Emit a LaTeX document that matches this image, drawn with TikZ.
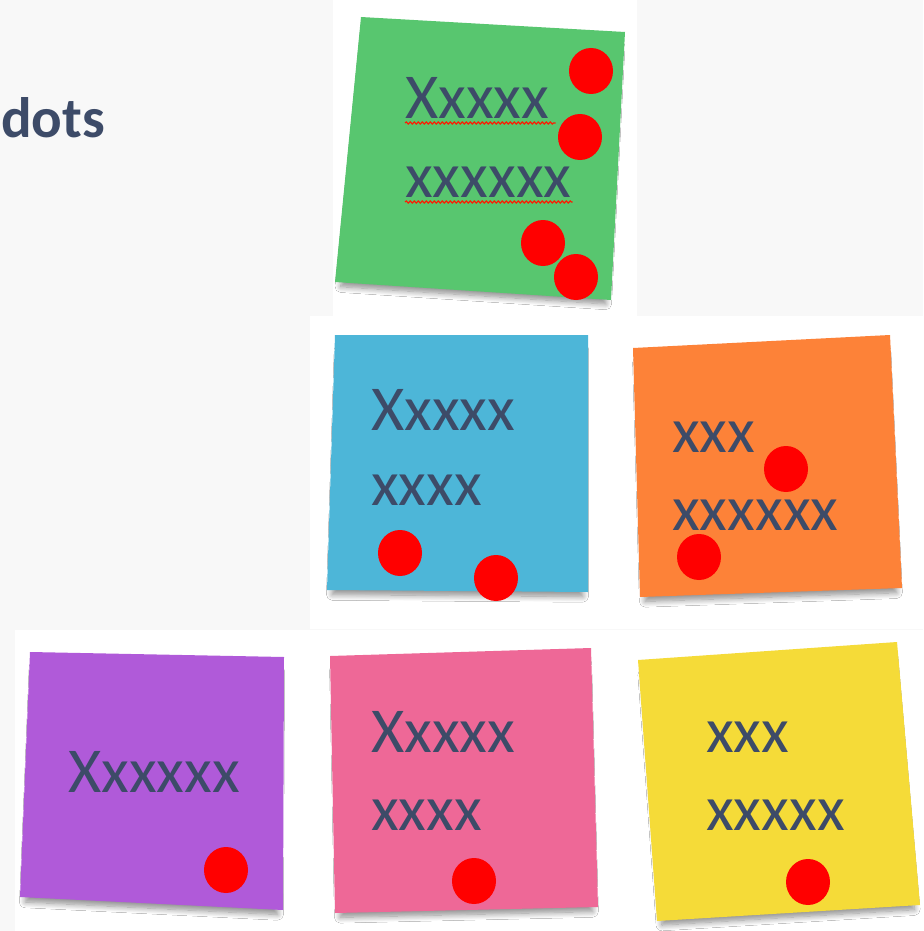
\documentclass[tikz,border=0pt]{standalone}
\usepackage{fontspec}
\setmainfont{Carlito}
\usetikzlibrary{shapes.geometric,decorations.pathmorphing,shadows.blur}

\definecolor{inkblue}{HTML}{3D4B68}
\definecolor{notegreen}{HTML}{58C66F}
\definecolor{noteblue}{HTML}{4DB6D8}
\definecolor{noteorange}{HTML}{FD8238}
\definecolor{notepurple}{HTML}{B05AD9}
\definecolor{notepink}{HTML}{EE6897}
\definecolor{noteyellow}{HTML}{F5DB38}
\definecolor{paper}{HTML}{F8F8F8}

\tikzset{
  note/.style={fill=#1, blur shadow={shadow xshift=0pt, shadow yshift=-10pt,
      shadow scale=0.96, shadow blur radius=6pt, shadow blur steps=10,
      shadow opacity=45}},
  scrib/.style={text=inkblue, inner sep=0pt, anchor=base west,
      font=\fontsize{64}{72}\selectfont},
  dot/.style={ellipse, fill=red, minimum width=44pt, minimum height=46pt, inner sep=0pt},
  wavy/.style={draw=red!80!orange, line width=1.1pt,
      decorate, decoration={snake, amplitude=1.1pt, segment length=4pt}}
}

\begin{document}
\begin{tikzpicture}[x=1pt, y=-1pt]
  \useasboundingbox (0,0) rectangle (923,931);
  \fill[paper] (0,0) rectangle (923,931);
  % photo patches behind the notes
  \fill[white] (333,0) rectangle (637,316);
  \fill[white] (310,316) rectangle (923,629);
  \fill[white] (15,630) rectangle (923,931);

  \node[text=inkblue, inner sep=0pt, anchor=base west,
        font=\fontsize{57}{64}\selectfont\bfseries] (title) at (1,137) {dots};

  % the notes
  \foreach \col/\ax/\ay/\bx/\by/\cx/\cy/\dx/\dy in {
      notegreen/361/17/625/32/611/300/335/282,
      noteblue/335/335/588/335/588/592/327/590,
      noteorange/633/348/890/335/902/588/640/597,
      notepurple/30/652/284/657/283/910/20/897,
      notepink/330/656/591/648/598/907/335/913,
      noteyellow/638/660/897/642/920/905/657/921}
    \fill[note=\col] (\ax,\ay) -- (\bx,\by) -- (\cx,\cy) -- (\dx,\dy) -- cycle;

  % green note
  \node[scrib] (g1) at (405,118) {Xxxxx};
  \node[scrib] (g2) at (405,197) {xxxxxx};
  \draw[wavy] ([yshift=-5pt]g1.base west) -- ([xshift=6pt,yshift=-5pt]g1.base east);
  \draw[wavy] ([yshift=-5pt]g2.base west) -- ([xshift=1pt,yshift=-5pt]g2.base east);
  \node[dot] (gd1) at (591,71) {};
  \node[dot] (gd2) at (580,137) {};
  \node[dot] (gd3) at (543,243) {};
  \node[dot] (gd4) at (576,277) {};

  % blue note
  \node[scrib] (b1) at (371,430) {Xxxxx};
  \node[scrib] (b2) at (371,505) {xxxx};
  \node[dot] (bd1) at (400,553) {};
  \node[dot] (bd2) at (496,578) {};

  % orange note
  \node[scrib] (o1) at (672,452) {xxx};
  \node[scrib] (o2) at (672,530) {xxxxxx};
  \node[dot] (od1) at (786,469) {};
  \node[dot] (od2) at (699,557) {};

  % purple note
  \node[scrib] (p1) at (68,792) {Xxxxxx};
  \node[dot] (pd1) at (226,870) {};

  % pink note
  \node[scrib] (k1) at (371,752) {Xxxxx};
  \node[scrib] (k2) at (371,830) {xxxx};
  \node[dot] (kd1) at (474,881) {};

  % yellow note
  \node[scrib] (y1) at (706,752) {xxx};
  \node[scrib] (y2) at (706,830) {xxxxx};
  \node[dot] (yd1) at (808,882) {};
\end{tikzpicture}
\end{document}
